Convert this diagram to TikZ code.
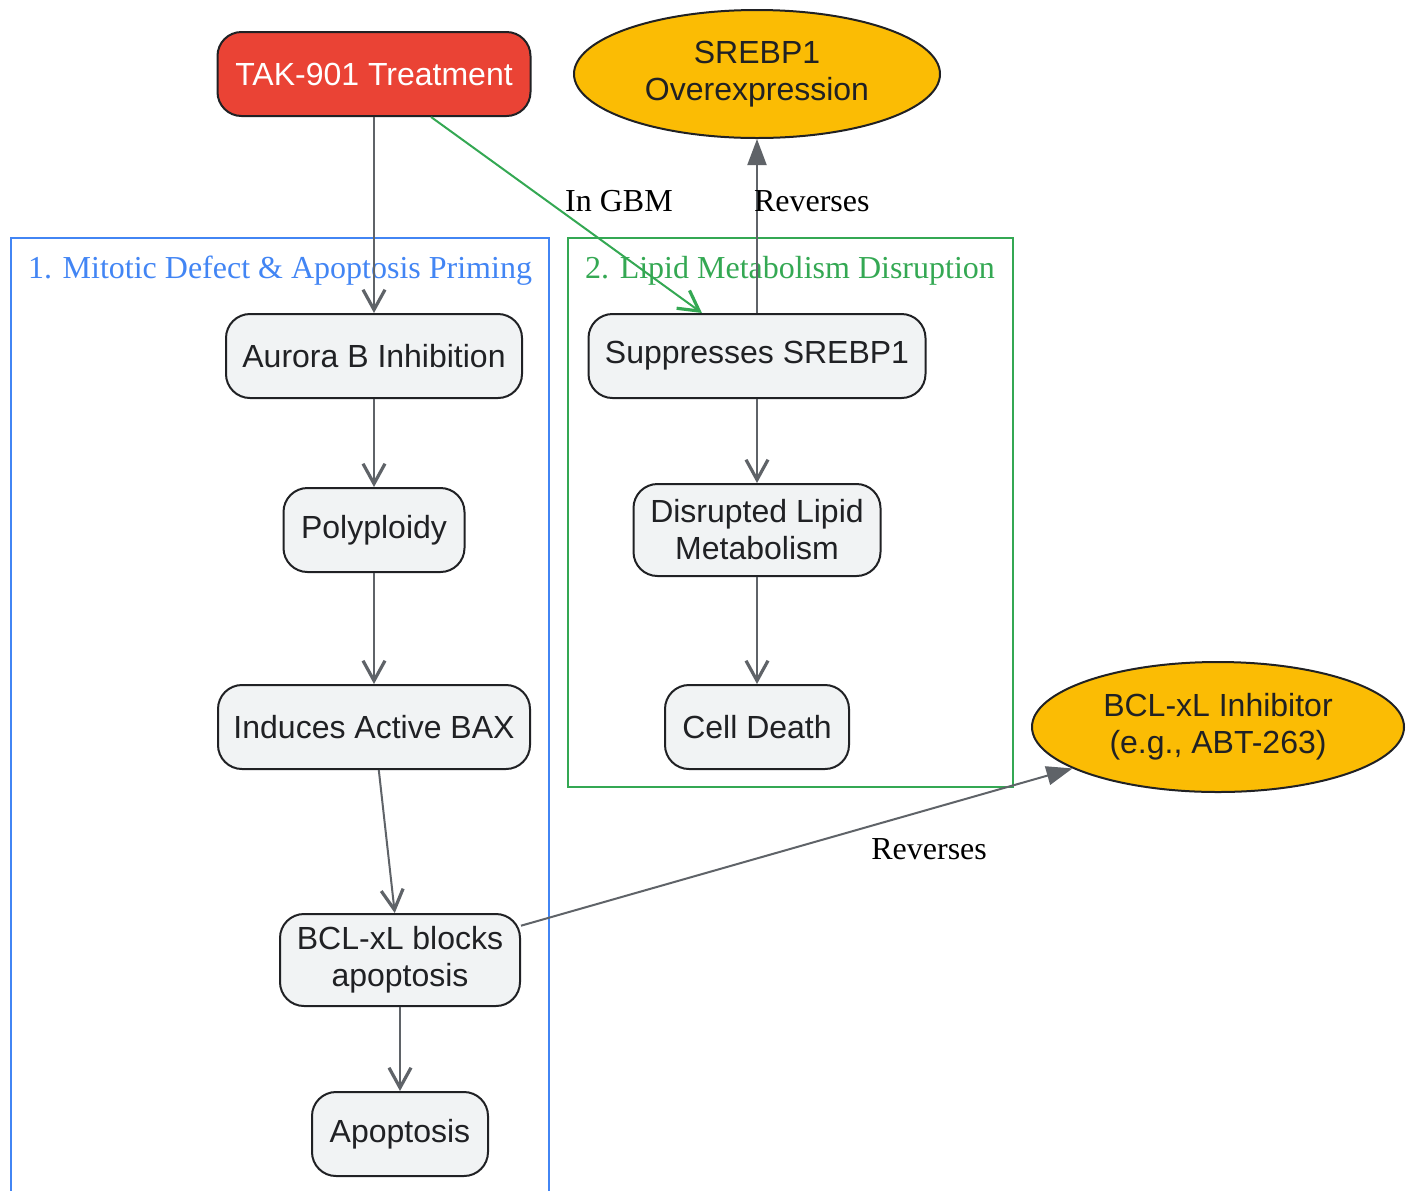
\documentclass[tikz,border=0pt]{standalone}
\usepackage{fontspec}
\setmainfont{Liberation Serif}
\newfontfamily\boxfont{Liberation Sans}
\usetikzlibrary{shapes.geometric,arrows.meta}

\definecolor{takred}{HTML}{EA4335}
\definecolor{drugyel}{HTML}{FBBC04}
\definecolor{procfill}{HTML}{F1F3F4}
\definecolor{inkdark}{HTML}{202124}
\definecolor{edgegray}{HTML}{5F6368}
\definecolor{grpblue}{HTML}{4285F4}
\definecolor{grpgreen}{HTML}{34A853}

\tikzset{
    proc/.style   = {draw=inkdark, fill=procfill, text=inkdark, line width=1pt,
                     rounded corners=12pt, minimum height=42pt, inner xsep=7.5pt,
                     align=center, font=\boxfont\fontsize{16}{18.5}\selectfont},
    start/.style  = {proc, fill=takred, text=white},
    drug/.style   = {ellipse, draw=inkdark, fill=drugyel, text=inkdark, line width=1pt,
                     inner sep=0pt, align=center, font=\boxfont\fontsize{16}{18.5}\selectfont},
    flow/.style   = {draw=edgegray, line width=1pt,
                     -{Straight Barb[length=10pt,width=11pt,line width=1.6pt]}},
    gflow/.style  = {flow, draw=grpgreen},
    rev/.style    = {draw=edgegray, line width=1pt, -{Triangle[length=13pt,width=9.5pt]}},
    elabel/.style = {font=\fontsize{16}{18.5}\selectfont, text=black},
    grptitle/.style = {font=\fontsize{16}{18.5}\selectfont}
}

\begin{document}
\begin{tikzpicture}[x=0.5pt, y=-0.5pt]

    \useasboundingbox (0,0) rectangle (1414,1190);

    % groups
    \draw [grpblue, line width=1pt] (11,1196) -- (11,238) -- (549,238) -- (549,1196);
    \node [grptitle, text=grpblue] (g1) at (280,271) {1. Mitotic Defect \& Apoptosis Priming};

    \draw [grpgreen, line width=1pt] (568,238) rectangle (1013,787);
    \node [grptitle, text=grpgreen] (g2) at (790,271) {2. Lipid Metabolism Disruption};

    % nodes
    \node [start, minimum width=156.5pt] (tak)   at (374, 74)  {TAK-901 Treatment};
    \node [drug, minimum width=183pt, minimum height=64pt] (srebp) at (757, 74) {SREBP1\\Overexpression};

    \node [proc, minimum width=148pt]   (aur)   at (374, 356) {Aurora B Inhibition};
    \node [proc, minimum width=90.5pt]  (poly)  at (374, 530) {Polyploidy};
    \node [proc, minimum width=156pt]   (bax)   at (374, 727) {Induces Active BAX};
    \node [proc, minimum width=120pt, minimum height=46pt] (bcl) at (400, 960) {BCL-xL blocks\\apoptosis};
    \node [proc, minimum width=88pt]    (apo)   at (400,1134) {Apoptosis};

    \node [proc, minimum width=168.5pt] (supp)  at (757, 356) {Suppresses SREBP1};
    \node [proc, minimum width=123.5pt, minimum height=46pt] (lipid) at (757, 530) {Disrupted Lipid\\Metabolism};
    \node [proc, minimum width=92pt]    (death) at (757, 727) {Cell Death};

    \node [drug, minimum width=186pt, minimum height=65pt] (inh) at (1218,727) {BCL-xL Inhibitor\\(e.g., ABT-263)};

    % edges
    \draw [flow]  (tak) -- (aur);
    \draw [gflow] (tak.-37) -- (supp.142) node [elabel, pos=0.43, right=5pt] (lgbm) {In GBM};
    \draw [rev]   (supp) -- (srebp) node [elabel, pos=0.64, anchor=west, inner xsep=0pt, xshift=-2pt] (lrev1) {Reverses};

    \draw [flow]  (aur)  -- (poly);
    \draw [flow]  (poly) -- (bax);
    \draw [flow]  (bax)  -- (bcl);
    \draw [flow]  (bcl)  -- (apo);

    \draw [flow]  (supp)  -- (lipid);
    \draw [flow]  (lipid) -- (death);

    \draw [rev]   (bcl) -- (inh) node [elabel, pos=0.74, below=11pt] (lrev2) {Reverses};

\end{tikzpicture}
\end{document}
